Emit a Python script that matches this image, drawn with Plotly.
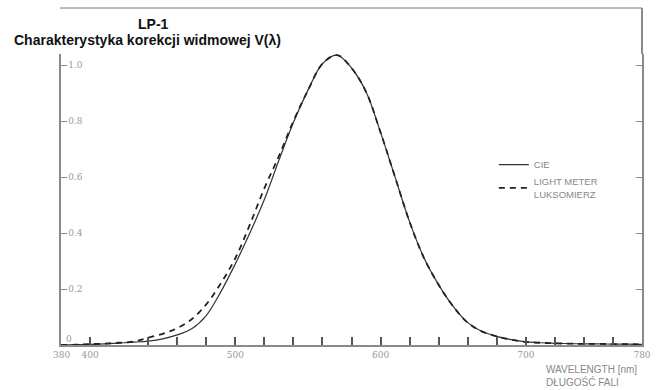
import plotly.graph_objects as go

wavelength = [380, 390, 400, 410, 420, 430, 440, 450, 460, 470, 480, 490, 500, 510, 520, 530,
              540, 550, 560, 570, 580, 590, 600, 610, 620, 630, 640, 650, 660, 670, 680, 690,
              700, 710, 720, 730, 740, 750, 760, 770, 780]
cie = [0.0, 0.001, 0.002, 0.004, 0.007, 0.010, 0.014, 0.022, 0.036, 0.058, 0.105, 0.19, 0.29, 0.40,
       0.52, 0.66, 0.795, 0.91, 1.005, 1.036, 0.99, 0.905, 0.76, 0.60, 0.44, 0.31, 0.215, 0.138,
       0.08, 0.048, 0.031, 0.019, 0.011, 0.008, 0.006, 0.005, 0.004, 0.004, 0.003, 0.003, 0.002]
meter = [0.0, 0.001, 0.003, 0.005, 0.008, 0.012, 0.026, 0.040, 0.060, 0.092, 0.145, 0.22, 0.31, 0.43,
         0.56, 0.675, 0.80, 0.91, 1.005, 1.036, 0.99, 0.905, 0.76, 0.60, 0.44, 0.31, 0.215, 0.138,
         0.08, 0.048, 0.031, 0.019, 0.011, 0.008, 0.006, 0.005, 0.004, 0.004, 0.003, 0.003, 0.002]

x_tickvals = [400, 500, 600, 700, 780]
x_ticktext = ["400", "500", "600", "700", "780"]
x_minor = [440, 460, 480, 520, 540, 560, 580, 620, 640, 660, 680, 720, 740, 760]
y_tickvals = [0.2, 0.4, 0.6, 0.8, 1.0]
y_ticktext = ["0.2", "0.4", "0.6", "0.8", "1.0"]

gray = "#8a8a8a"
tickfont = dict(family="DejaVu Serif, serif", size=9, color="#999999")

fig = go.Figure()
fig.add_trace(go.Scatter(x=wavelength, y=cie, mode="lines", name="CIE",
                         line=dict(color="#333333", width=1.2), line_shape="spline"))
fig.add_trace(go.Scatter(x=wavelength, y=meter, mode="lines", name="LIGHT METER<br>LUKSOMIERZ",
                         line=dict(color="#222222", width=1.8, dash="6px,5px"), line_shape="spline"))

fig.update_layout(
    width=659, height=390,
    margin=dict(l=61, r=8, t=54, b=45),
    paper_bgcolor="white", plot_bgcolor="white",
    showlegend=True,
    legend=dict(x=0.745, y=0.67, xanchor="left", yanchor="top",
                font=dict(family="Liberation Sans, Arial", size=9.5, color="#888888"),
                bgcolor="rgba(0,0,0,0)", tracegroupgap=6, itemwidth=30),
    xaxis=dict(range=[380, 780], showgrid=False, zeroline=False, showline=True,
               linecolor=gray, linewidth=2, ticks="inside", ticklen=8, tickcolor="#555555",
               tickwidth=1.5, tickvals=x_tickvals, ticktext=x_ticktext, tickfont=tickfont,
               minor=dict(tickvals=x_minor, ticks="inside", ticklen=8, tickcolor="#555555",
                          tickwidth=1.5)),
    yaxis=dict(range=[0, 1.04], showgrid=False, zeroline=False, showline=True,
               linecolor=gray, linewidth=2, mirror="ticks", ticks="inside", ticklen=6,
               tickcolor=gray, tickvals=y_tickvals, ticktext=y_ticktext,
               ticklabelposition="inside", tickfont=tickfont),
)

# frame extension (top and right border of the original sheet)
fig.add_shape(type="line", xref="paper", yref="paper", x0=-0.002, x1=1.0, y0=1.158, y1=1.158,
              line=dict(color="#777777", width=1))
fig.add_shape(type="line", xref="paper", yref="paper", x0=1.0, x1=1.0, y0=1.0, y1=1.158,
              line=dict(color=gray, width=2))

fig.add_annotation(text="0", xref="paper", yref="paper", x=(64 - 61) / 590, y=(345 - 339) / 291,
                   showarrow=False, xanchor="left", yanchor="middle", font=tickfont)
fig.add_annotation(text="380", xref="x", yref="paper", x=380, y=(345 - 348) / 291,
                   showarrow=False, xanchor="center", yanchor="top", font=tickfont)
fig.add_annotation(text="<b>LP-1</b>", xref="paper", yref="paper", x=(155 - 61) / 590,
                   y=(345 - 24) / 291, showarrow=False, xanchor="center", yanchor="middle",
                   font=dict(family="Liberation Sans, Arial", size=14, color="#111111"))
fig.add_annotation(text="<b>Charakterystyka korekcji widmowej V(λ)</b>", xref="paper", yref="paper",
                   x=(149 - 61) / 590, y=(345 - 40) / 291, showarrow=False, xanchor="center",
                   yanchor="middle",
                   font=dict(family="Liberation Sans, Arial", size=14, color="#111111"))
fig.add_annotation(text="WAVELENGTH [nm]<br>DŁUGOŚĆ FALI", xref="paper", yref="paper",
                   x=(551 - 61) / 590, y=(345 - 362) / 291, showarrow=False, xanchor="left",
                   yanchor="top", align="left",
                   font=dict(family="Liberation Sans, Arial", size=10, color="#888888"))

fig.write_html("out.html")
